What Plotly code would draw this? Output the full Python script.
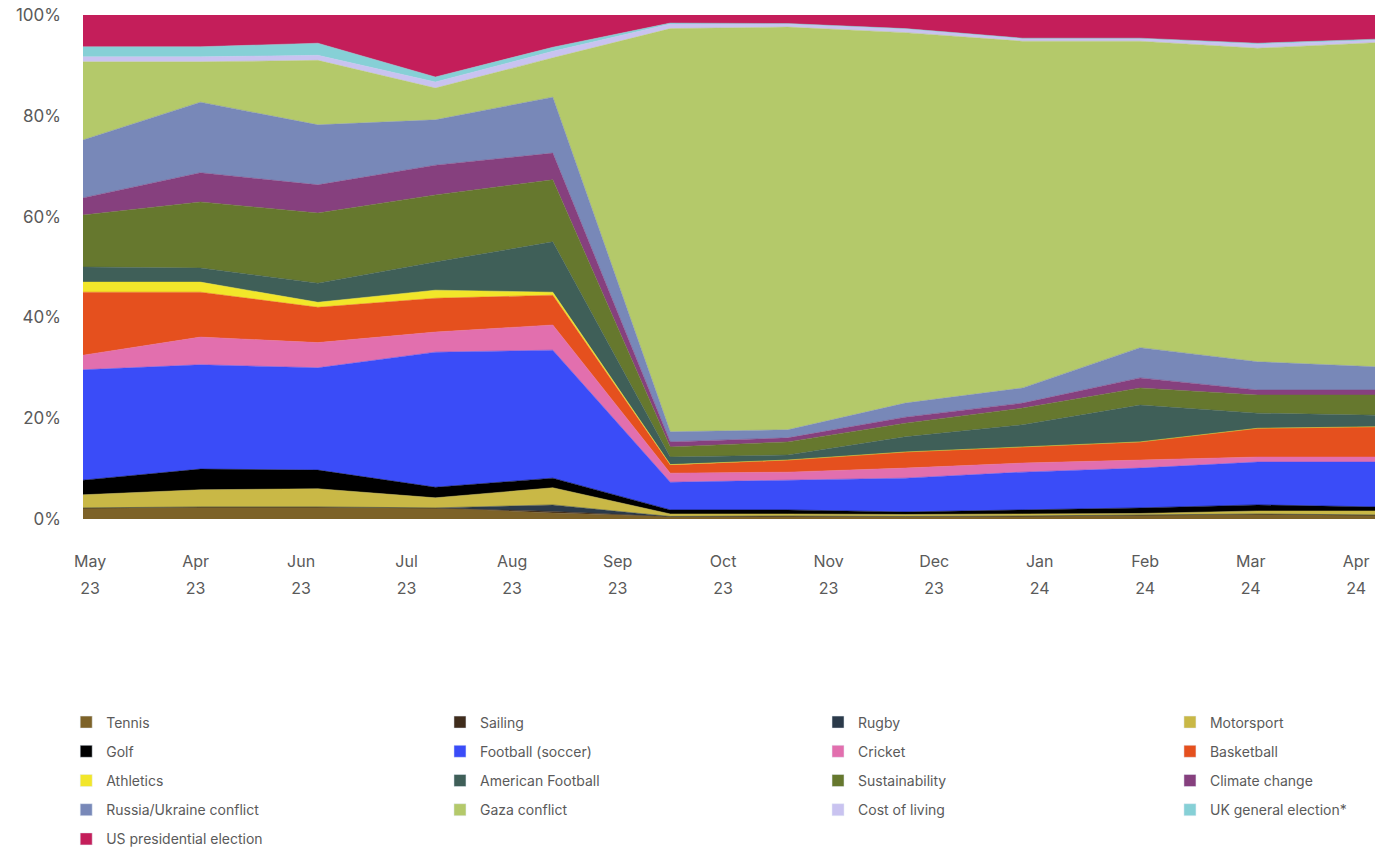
import numpy as np
import plotly.graph_objects as go

# ---- data (share of coverage, %) at 12 monthly points ----
points = list(range(12))

tick_months = ["May", "Apr", "Jun", "Jul", "Aug", "Sep", "Oct", "Nov", "Dec", "Jan", "Feb", "Mar", "Apr"]
tick_years = ["23", "23", "23", "23", "23", "23", "23", "23", "23", "24", "24", "24", "24"]
y_ticks = [0, 20, 40, 60, 80, 100]
y_tick_labels = ["0%", "20%", "40%", "60%", "80%", "100%"]

tennis = [2.2, 2.4, 2.4, 2.2, 1.2, 0.5, 0.6, 0.5, 0.6, 0.8, 1.0, 0.8]
sailing = [0.0, 0.0, 0.0, 0.0, 0.3, 0.0, 0.0, 0.0, 0.0, 0.0, 0.0, 0.0]
rugby = [0.0, 0.0, 0.0, 0.0, 1.3, 0.0, 0.0, 0.0, 0.0, 0.0, 0.0, 0.0]
motorsport = [2.6, 3.4, 3.6, 2.0, 3.4, 0.5, 0.4, 0.4, 0.4, 0.3, 0.6, 0.8]
golf = [2.9, 4.1, 3.7, 2.1, 1.9, 0.8, 0.8, 0.5, 0.8, 1.1, 1.2, 0.8]
football = [21.9, 20.7, 20.3, 26.8, 25.4, 5.5, 5.9, 6.7, 7.5, 7.9, 8.5, 8.9]
cricket = [2.9, 5.5, 5.0, 4.0, 5.0, 1.8, 1.6, 2.0, 1.8, 1.6, 1.0, 1.0]
basketball = [12.5, 8.9, 7.0, 6.7, 5.9, 1.6, 2.4, 3.2, 3.2, 3.6, 5.7, 6.0]
athletics = [2.0, 2.0, 1.0, 1.6, 0.6, 0.1, 0.0, 0.0, 0.0, 0.0, 0.0, 0.0]
american_football = [3.0, 2.8, 3.8, 5.6, 10.0, 1.5, 1.0, 3.0, 4.4, 7.3, 3.0, 2.3]
sustainability = [10.3, 13.1, 13.9, 13.3, 12.3, 2.0, 2.6, 2.7, 3.3, 3.4, 3.6, 4.0]
climate_change = [3.4, 5.8, 5.6, 5.9, 5.3, 1.0, 0.8, 1.2, 1.0, 2.0, 1.0, 1.0]
russia_ukraine = [11.5, 14.0, 11.9, 9.0, 11.1, 2.0, 1.6, 2.8, 3.0, 6.0, 5.6, 4.6]
gaza = [15.5, 8.0, 12.8, 6.3, 7.8, 80.0, 79.9, 73.5, 68.8, 60.8, 62.2, 64.3]
cost_of_living = [1.0, 1.0, 1.0, 1.2, 1.3, 0.9, 0.6, 0.7, 0.5, 0.5, 0.8, 0.5]
uk_election = [2.0, 2.0, 2.4, 1.0, 0.8, 0.2, 0.1, 0.1, 0.1, 0.1, 0.2, 0.2]
us_election = [6.3, 6.3, 5.6, 12.3, 6.4, 1.6, 1.7, 2.7, 4.6, 4.6, 5.6, 4.8]

series = [
    ("Tennis", tennis, "#7d6228"),
    ("Sailing", sailing, "#3f2c1c"),
    ("Rugby", rugby, "#2b3a4a"),
    ("Motorsport", motorsport, "#c9b846"),
    ("Golf", golf, "#000000"),
    ("Football (soccer)", football, "#3a4cf8"),
    ("Cricket", cricket, "#e26fae"),
    ("Basketball", basketball, "#e5501e"),
    ("Athletics", athletics, "#f2e62a"),
    ("American Football", american_football, "#3f5f58"),
    ("Sustainability", sustainability, "#66782e"),
    ("Climate change", climate_change, "#86407e"),
    ("Russia/Ukraine conflict", russia_ukraine, "#7888b8"),
    ("Gaza conflict", gaza, "#b4c96a"),
    ("Cost of living", cost_of_living, "#c9c3f0"),
    ("UK general election*", uk_election, "#86d0d6"),
    ("US presidential election", us_election, "#c41e5a"),
]

FONT = "Inter"
TXT = "#5a5a5a"

fig = go.Figure()
for name, vals, color in series:
    fig.add_trace(go.Scatter(
        x=points, y=vals, name=name, mode="lines", stackgroup="one",
        line=dict(width=0.5, color=color), fillcolor=color,
        showlegend=False, hoverinfo="x+y+name",
    ))

# legend-only swatches (square keys), one legend per column
legend_ids = ["legend", "legend2", "legend3", "legend4"]
for i, (name, vals, color) in enumerate(series):
    fig.add_trace(go.Bar(
        x=[None], y=[None], name=name, marker=dict(color=color), xaxis="x2",
        legend=legend_ids[i % 4], legendgroup=name, showlegend=True,
        hoverinfo="skip",
    ))

tick_pos = np.linspace(0.06, 10.84, len(tick_months))

leg_common = dict(
    orientation="v", xanchor="left", yanchor="top", y=-0.372,
    font=dict(family=FONT, size=14, color=TXT), tracegroupgap=8,
    bgcolor="rgba(0,0,0,0)", itemclick=False, itemdoubleclick=False,
)

fig.update_layout(
    width=1391, height=850,
    margin=dict(l=83, r=16, t=15, b=331, autoexpand=False),
    paper_bgcolor="white", plot_bgcolor="white",
    font=dict(family=FONT, color=TXT),
    showlegend=True,
    xaxis=dict(
        range=[0, 11], tickvals=tick_pos, ticktext=tick_months,
        showgrid=False, zeroline=False, showline=False, ticks="",
        tickfont=dict(family=FONT, size=16, color=TXT), ticklabelstandoff=31,
    ),
    xaxis2=dict(
        range=[0, 11], overlaying="x", side="bottom", anchor="y",
        tickvals=tick_pos, ticktext=tick_years,
        showgrid=False, zeroline=False, showline=False, ticks="",
        tickfont=dict(family=FONT, size=16, color=TXT), ticklabelstandoff=58,
    ),
    yaxis=dict(
        range=[0, 100], tickvals=y_ticks, ticktext=y_tick_labels,
        showgrid=False, zeroline=False, showline=False, ticks="",
        tickfont=dict(family=FONT, size=17, color=TXT), ticklabelstandoff=21,
    ),
    legend=dict(x=-0.013, **leg_common),
    legend2=dict(x=0.2763, **leg_common),
    legend3=dict(x=0.5689, **leg_common),
    legend4=dict(x=0.8413, **leg_common),
)

fig.write_html("out.html", config={"displayModeBar": False},
               post_script="document.body.style.margin='0';")
